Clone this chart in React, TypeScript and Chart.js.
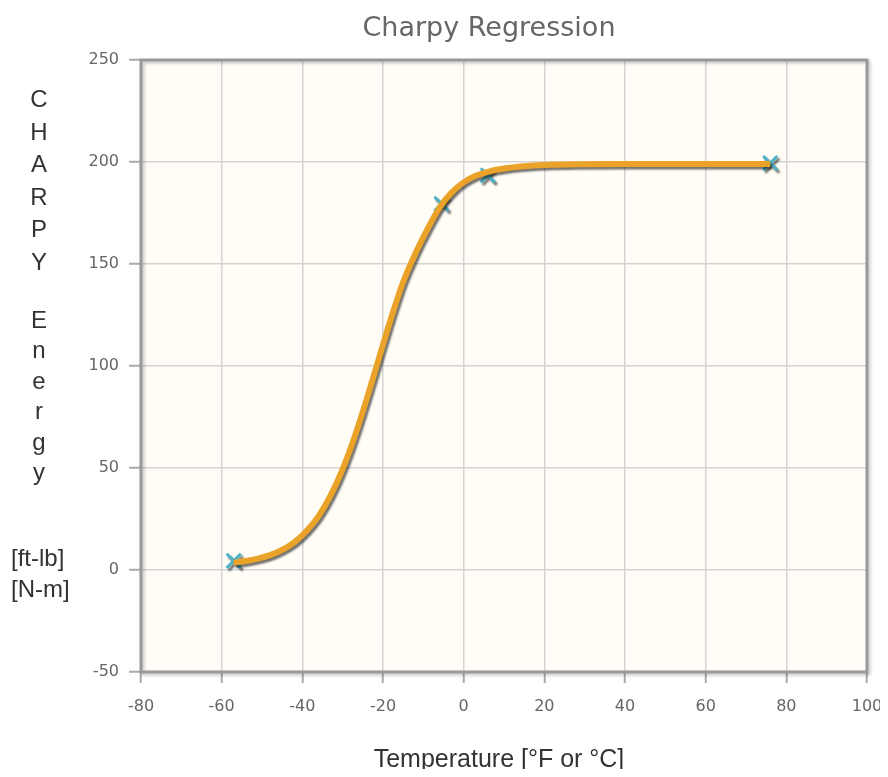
import React, { useEffect, useRef } from "react";
import { Chart, registerables } from "chart.js";

Chart.register(...registerables);

// ---- data ----
const chartTitle = "Charpy Regression";
const xAxisTitle = "Temperature [°F or °C]";
const yTitleWord1 = ["C", "H", "A", "R", "P", "Y"];
const yTitleWord2 = ["E", "n", "e", "r", "g", "y"];
const yTitleUnits = ["[ft-lb]", "[N-m]"];

const xTickValues = [-80, -60, -40, -20, 0, 20, 40, 60, 80, 100];
const yTickValues = [-50, 0, 50, 100, 150, 200, 250];

// measured test specimens
const testTemps = [-57, -5.5, 6, 76];
const testEnergy = [4.5, 179.5, 193.5, 199.5];

// regression curve
const curveTemps = [
  -57, -54, -51, -48, -45, -42, -39, -36, -33, -30, -27, -24, -21, -18, -15,
  -12, -9, -6, -3, 0, 3, 6, 10, 15, 20, 30, 40, 50, 60, 76,
];
const curveEnergy = [
  3.6, 4.4, 5.6, 7.3, 9.9, 13.6, 19.0, 26.3, 36.4, 49.4, 65.5, 84.0, 103.8,
  123.4, 141.2, 155.0, 167.0, 177.5, 185.0, 190.0, 193.2, 195.2, 196.8, 197.9,
  198.5, 198.9, 199.0, 199.0, 199.0, 199.0,
];

const COLORS = {
  plotBg: "#fffdf6",
  grid: "#d4d4d4",
  tick: "#aaaaaa",
  border: "#999999",
  tickLabel: "#666666",
  title: "#666666",
  axisTitle: "#333333",
  marker: "#4bb2c5",
  curve: "#eaa228",
};

const decorPlugin = {
  id: "decor",
  beforeDraw(chart: any) {
    const { ctx, chartArea } = chart;
    const { left, top, right, bottom } = chartArea;
    ctx.save();
    ctx.fillStyle = COLORS.plotBg;
    ctx.fillRect(left, top, right - left, bottom - top);
    ctx.restore();
  },
  beforeDatasetsDraw(chart: any) {
    const { ctx, chartArea } = chart;
    const { left, top, right, bottom } = chartArea;
    ctx.save();
    ctx.shadowColor = "rgba(0,0,0,0.22)";
    ctx.shadowOffsetX = 2;
    ctx.shadowOffsetY = 2;
    ctx.shadowBlur = 3;
    ctx.strokeStyle = COLORS.border;
    ctx.lineWidth = 3;
    ctx.strokeRect(left, top, right - left, bottom - top);
    ctx.restore();
  },
  beforeDatasetDraw(chart: any) {
    const ctx = chart.ctx;
    ctx.save();
    ctx.shadowColor = "rgba(0,0,0,0.55)";
    ctx.shadowOffsetX = 2;
    ctx.shadowOffsetY = 2.5;
    ctx.shadowBlur = 2;
  },
  afterDatasetDraw(chart: any) {
    chart.ctx.restore();
  },
  afterDraw(chart: any) {
    const { ctx, chartArea } = chart;
    ctx.save();
    // title
    ctx.fillStyle = COLORS.title;
    ctx.font = "27px 'DejaVu Sans'";
    ctx.textAlign = "center";
    ctx.textBaseline = "alphabetic";
    ctx.fillText(chartTitle, (chartArea.left + chartArea.right) / 2 - 15, 27.5);

    // y title, stacked letters
    ctx.fillStyle = COLORS.axisTitle;
    ctx.font = "24px 'Liberation Sans'";
    ctx.textAlign = "center";
    yTitleWord1.forEach((ch, i) => ctx.fillText(ch, 31, 99 + i * 32.5));
    yTitleWord2.forEach((ch, i) => ctx.fillText(ch, 31, 319.5 + i * 30.5));
    ctx.textAlign = "left";
    yTitleUnits.forEach((s, i) => ctx.fillText(s, 3, 558 + i * 31));

    // x title
    ctx.font = "25px 'Liberation Sans'";
    ctx.textAlign = "center";
    ctx.fillText(xAxisTitle, (chartArea.left + chartArea.right) / 2 - 5, 758.5);
    ctx.restore();
  },
};

export default function App() {
  const canvasRef = useRef<HTMLCanvasElement | null>(null);

  useEffect(() => {
    if (!canvasRef.current) return;
    const curvePts = curveTemps.map((t, i) => ({ x: t, y: curveEnergy[i] }));
    const testPts = testTemps.map((t, i) => ({ x: t, y: testEnergy[i] }));

    const chart = new Chart(canvasRef.current, {
      type: "scatter",
      data: {
        datasets: [
          {
            label: "Regression",
            data: curvePts,
            showLine: true,
            borderColor: COLORS.curve,
            backgroundColor: COLORS.curve,
            borderWidth: 6,
            pointRadius: 0,
            cubicInterpolationMode: "monotone",
            order: 0,
          },
          {
            label: "Tests",
            data: testPts,
            showLine: false,
            pointStyle: "crossRot",
            pointRadius: 10,
            borderColor: COLORS.marker,
            backgroundColor: COLORS.marker,
            pointBorderWidth: 3,
            borderWidth: 3,
            order: 1,
          },
        ],
      },
      options: {
        responsive: false,
        animation: false,
        events: [],
        layout: { padding: { left: 0, top: 52, right: 11, bottom: 0 } },
        plugins: {
          legend: { display: false },
          title: { display: false },
          tooltip: { enabled: false },
        },
        scales: {
          x: {
            type: "linear",
            min: xTickValues[0],
            max: xTickValues[xTickValues.length - 1],
            afterFit: (scale: any) => {
              scale.height = 97;
              scale.paddingLeft = 0;
              scale.paddingRight = 0;
            },
            afterBuildTicks: (scale: any) => {
              scale.ticks = xTickValues.map((v) => ({ value: v }));
            },
            ticks: {
              color: COLORS.tickLabel,
              font: { family: "'DejaVu Sans'", size: 16 },
              padding: 14,
              maxRotation: 0,
              autoSkip: false,
            },
            grid: {
              color: COLORS.grid,
              lineWidth: 1.5,
              tickLength: 11,
              tickColor: COLORS.tick,
              tickWidth: 2,
            },
            border: { display: false },
          },
          y: {
            type: "linear",
            min: yTickValues[0],
            max: yTickValues[yTickValues.length - 1],
            afterFit: (scale: any) => {
              scale.width = 133;
              scale.paddingTop = 0;
              scale.paddingBottom = 0;
            },
            afterBuildTicks: (scale: any) => {
              scale.ticks = yTickValues.map((v) => ({ value: v }));
            },
            ticks: {
              color: COLORS.tickLabel,
              font: { family: "'DejaVu Sans'", size: 16 },
              padding: 10,
              autoSkip: false,
            },
            grid: {
              color: COLORS.grid,
              lineWidth: 1.5,
              tickLength: 12,
              tickColor: COLORS.tick,
              tickWidth: 2,
            },
            border: { display: false },
          },
        },
      },
      plugins: [decorPlugin],
    } as any);

    return () => chart.destroy();
  }, []);

  return (
    <div style={{ width: 872, height: 761 }}>
      <canvas ref={canvasRef} width={872} height={761} />
    </div>
  );
}
